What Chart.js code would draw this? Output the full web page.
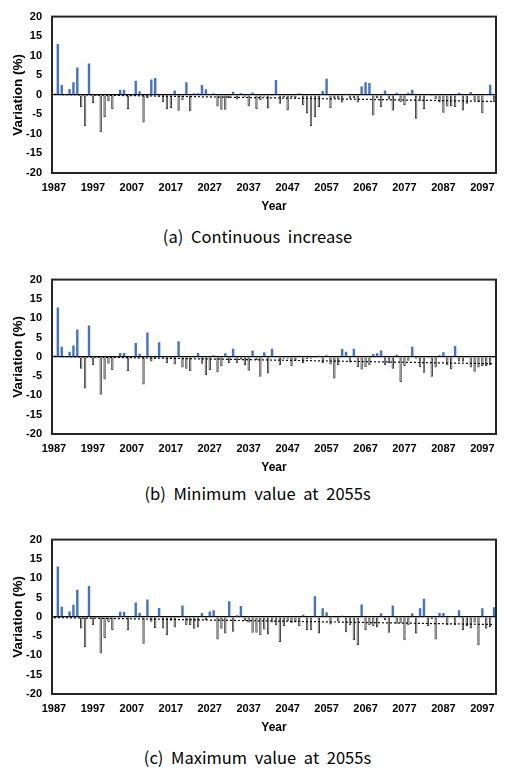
<!DOCTYPE html>
<html>
<head>
<meta charset="utf-8">
<script src="https://cdn.jsdelivr.net/npm/chart.js@4.4.0/dist/chart.umd.min.js"></script>
<style>
  body { margin: 0; background: #fff; width: 515px; height: 775px; position: relative; overflow: hidden; }
  .panel { position: absolute; left: 0; width: 515px; }
  .caption { position: absolute; left: 0; width: 515px; text-align: center; font-family: "Noto Sans CJK KR", sans-serif; font-size: 16.5px; word-spacing: 4px; color: #000; line-height: 20px; }
</style>
</head>
<body>
<div class="panel" id="pa"><canvas id="chartA"></canvas></div>
<div class="caption" style="top:226px">(a) Continuous increase</div>
<div class="panel" id="pb"><canvas id="chartB"></canvas></div>
<div class="caption" style="top:483px">(b) Minimum value at 2055s</div>
<div class="panel" id="pc"><canvas id="chartC"></canvas></div>
<div class="caption" style="top:747px">(c) Maximum value at 2055s</div>
<script>
  // categories: one bar per year
  const years = [];
  for (let y = 1987; y <= 2100; y++) years.push(String(y));
  const xTickLabels = ["1987", "1997", "2007", "2017", "2027", "2037", "2047", "2057", "2067", "2077", "2087", "2097"];

  // (a) continuous increase
  const increaseValues = [
    0.1, 13.0, 2.5, 0.2, 1.5, 3.2, 7.0, -3.1, -8.0, 8.0,
    -2.1, -0.3, -9.6, -5.7, -1.6, -3.6, 0.2, 1.3, 1.3, -3.6,
    0.1, 3.6, 0.9, -7.1, -0.8, 3.9, 4.3, -0.5, -1.9, -3.6,
    -3.4, 1.1, -4.1, -1.4, 3.2, -4.2, 0.4, 0.4, 2.5, 1.4,
    -0.2, 0.4, -3.0, -3.8, -3.8, -0.8, 0.8, -1.2, 0.4, -0.5,
    -2.9, 0.6, -3.6, -1.4, -0.5, -3.5, -0.3, 3.8, -2.3, -0.7,
    -4.0, -0.6, -0.8, 0.4, -2.7, -4.8, -8.0, -5.7, -3.1, 1.0,
    4.1, -3.4, -0.8, -1.0, -2.0, 0.3, -1.0, -0.8, -2.0, 2.1,
    3.2, 3.0, -5.3, -0.8, -3.1, 1.1, -1.2, -4.0, 0.5, -1.9,
    -2.6, 0.5, 1.3, -6.1, -1.5, -3.6, 0.2, -0.4, -1.2, -2.0,
    -4.6, -3.0, -3.0, -3.1, 0.5, -4.0, -2.3, 0.7, -1.3, -1.9,
    -4.7, 0.2, 2.6, -1.9
  ];
  const increaseTrend = [0.1, -1.7];

  // (b) minimum value at 2055s
  const minimumValues = [
    0.1, 12.8, 2.6, 0.2, 1.3, 2.9, 7.1, -3.1, -8.2, 8.1,
    -2.2, -0.3, -9.8, -5.9, -1.8, -3.5, 0.2, 1.0, 1.0, -3.7,
    0.1, 3.6, 0.8, -7.2, 6.3, -1.2, -0.5, 3.8, -0.3, -1.7,
    -0.4, -2.0, 4.0, -2.8, -3.1, -3.7, -0.3, 1.0, -1.8, -4.7,
    -3.4, 0.4, -4.0, -2.4, 0.9, -1.7, 2.1, -1.7, -0.7, -2.2,
    -3.6, 1.6, -0.8, -5.2, 1.2, -4.3, 2.1, -0.2, -2.1, -0.5,
    -0.5, -2.4, -1.0, 0.3, -1.7, -0.6, -0.5, -0.3, 0.3, -1.7,
    0.4, -2.0, -5.6, -2.2, 2.0, 1.3, -1.5, 2.1, -2.7, -3.3,
    -2.7, -2.2, 0.7, 0.9, 1.6, -2.2, -1.7, -3.1, 0.5, -6.5,
    -2.4, -1.0, 2.6, -0.5, -2.7, -4.1, -0.3, -5.2, -2.8, 0.4,
    1.2, -2.2, -3.3, 2.8, -1.2, -1.3, -0.3, -2.8, -3.9, -2.8,
    -2.4, -2.4, -2.2, -0.3
  ];
  const minimumTrend = [0.1, -1.8];

  // (c) maximum value at 2055s
  const maximumValues = [
    0.1, 13.0, 2.6, 0.2, 1.4, 3.1, 7.0, -3.0, -7.8, 8.0,
    -2.1, -0.3, -9.5, -5.5, -1.4, -3.4, 0.2, 1.3, 1.3, -3.5,
    0.1, 3.7, 1.0, -7.0, 4.5, -1.3, -2.9, 2.3, -3.0, -4.7,
    -1.0, -2.8, -0.4, 2.9, -2.2, -2.2, -3.1, -2.8, 1.0, -0.8,
    1.4, 1.7, -5.9, -3.1, -4.3, 4.0, -3.9, 0.4, 2.8, -1.0,
    -1.5, -4.1, -4.1, -4.8, -3.3, -4.6, -1.5, -2.2, -6.5, -2.4,
    -1.2, -1.7, -1.5, -2.4, 0.5, -3.5, -3.5, 5.3, -4.3, 2.2,
    1.2, -2.0, -0.3, -1.2, 0.3, -4.0, -2.2, -6.1, -7.3, 3.2,
    -3.4, -2.2, -2.4, -2.8, 0.9, -0.8, -4.1, 2.9, -1.8, -1.7,
    -6.1, -2.2, 0.9, -4.3, 2.2, 4.7, -2.4, -0.6, -5.9, 1.0,
    1.0, -2.2, 0.2, -2.2, 1.7, -3.4, -2.4, -3.0, -1.5, -7.4,
    2.2, -3.1, -2.7, 2.5
  ];
  const maximumTrend = [-0.2, -2.0];

  const tickFont = { family: "'Liberation Sans', Arial, sans-serif", size: 11, weight: "bold" };
  const titleFont = { family: "'Liberation Sans', Arial, sans-serif", size: 13.5, weight: "bold" };

  const frame = {
    id: "frame",
    afterDatasetsDraw(chart) {
      const { ctx, chartArea: a } = chart;
      ctx.save();
      ctx.strokeStyle = "#262626";
      ctx.lineWidth = 2;
      ctx.strokeRect(a.left, a.top, a.right - a.left, a.bottom - a.top);
      ctx.restore();
    },
  };

  function makeChart(panelId, canvasId, values, trend, plotTop, plotHeight) {
    const padTop = 16;
    const axisH = 43;
    const panel = document.getElementById(panelId);
    panel.style.top = (plotTop - padTop) + "px";
    const canvas = document.getElementById(canvasId);
    canvas.width = 515;
    canvas.height = padTop + plotHeight + axisH;

    const trendData = years.map(() => null);
    trendData[0] = trend[0];
    trendData[years.length - 1] = trend[1];

    return new Chart(canvas, {
      type: "bar",
      data: {
        labels: years,
        datasets: [
          {
            type: "line",
            data: trendData,
            spanGaps: true,
            borderColor: "#000",
            borderWidth: 1.2,
            borderDash: [2, 2],
            pointRadius: 0,
            order: 0,
          },
          {
            data: values,
            backgroundColor: values.map((v) => (v >= 0 ? "#4472c4" : "#a8a8a8")),
            borderColor: values.map((v) => (v >= 0 ? "#4472c4" : "#3a3a3a")),
            borderWidth: values.map((v) => (v >= 0 ? 0 : 1)),
            borderSkipped: false,
            categoryPercentage: 1,
            barPercentage: 0.62,
            order: 1,
          },
        ],
      },
      options: {
        responsive: false,
        animation: false,
        layout: { padding: { top: padTop, right: 19, left: 0, bottom: 0 } },
        plugins: { legend: { display: false }, tooltip: { enabled: false } },
        scales: {
          x: {
            grid: { display: false, drawTicks: false },
            border: { display: false },
            ticks: {
              autoSkip: false,
              maxRotation: 0,
              padding: 8,
              color: "#000",
              font: tickFont,
              callback: (v, i) => (xTickLabels.includes(years[i]) ? years[i] : ""),
            },
            title: { display: true, text: "Year", color: "#000", font: { ...titleFont, size: 12 }, padding: { top: 0, bottom: 2 } },
            afterFit: (s) => { s.height = axisH; },
          },
          y: {
            min: -20,
            max: 20,
            grid: {
              drawTicks: false,
              color: (c) => (c.tick && c.tick.value === 0 ? "#000" : "transparent"),
              lineWidth: 1.2,
            },
            border: { display: false },
            ticks: { stepSize: 5, padding: 10, color: "#000", font: tickFont },
            title: { display: true, text: "Variation (%)", color: "#000", font: titleFont, padding: { top: 10, bottom: 0 } },
            afterFit: (s) => { s.width = 52; },
          },
        },
      },
      plugins: [frame],
    });
  }

  makeChart("pa", "chartA", increaseValues, increaseTrend, 16, 157);
  makeChart("pb", "chartB", minimumValues, minimumTrend, 279, 155);
  makeChart("pc", "chartC", maximumValues, maximumTrend, 539, 155);
</script>
</body>
</html>
